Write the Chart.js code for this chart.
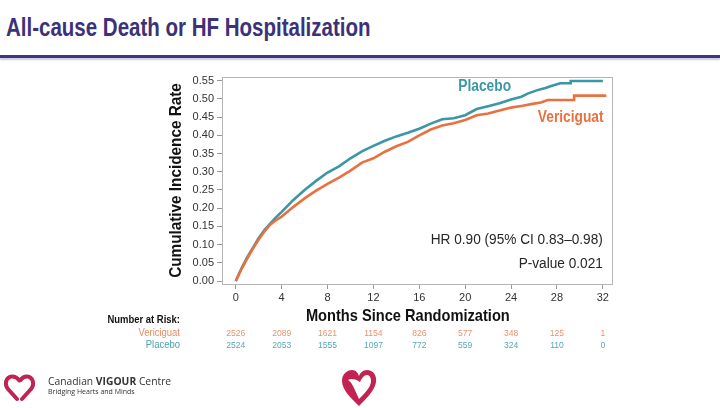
<!DOCTYPE html>
<html>
<head>
<meta charset="UTF-8">
<title>All-cause Death or HF Hospitalization</title>
<script src="https://cdn.jsdelivr.net/npm/chart.js@4.4.0/dist/chart.umd.min.js"></script>
<style>
  body { margin: 0; width: 720px; height: 408px; background: #fff; position: relative; overflow: hidden; font-family: 'Liberation Sans', Arial, sans-serif; }
  #title { position: absolute; left: 6px; top: 15px; font-size: 25px; line-height: 25px; font-weight: bold; color: #3b3278; white-space: nowrap; transform: scaleX(0.82); transform-origin: 0 0; }
  #rule { position: absolute; left: 0; top: 55px; width: 720px; height: 3px; background: #3d3781; box-shadow: 0 2px 2px #c9c6e0; }
  #chart { position: absolute; left: 0; top: 0; }
  .logo { position: absolute; }
  #cvc { left: 48px; top: 375px; font-family: 'Open Sans', 'Noto Sans', sans-serif; color: #333; }
  #cvc .name { font-size: 10.3px; line-height: 12px; white-space: nowrap; }
  #cvc .tag { font-size: 7px; line-height: 9px; white-space: nowrap; }
</style>
</head>
<body>
<div id="title">All-cause Death or HF Hospitalization</div>
<div id="rule"></div>
<canvas id="chart" width="720" height="408"></canvas>

<svg class="logo" style="left:4px;top:372px" width="31" height="31" viewBox="0 0 31 31">
  <path d="M13 27 L4 17 C0 12 2 5 8 4.5 C11 4.3 13.5 6 15.5 8.5" fill="none" stroke="#c12453" stroke-width="4" stroke-linecap="round"/>
  <path d="M18 27 L27 17 C31 12 29 5 23 4.5 C20 4.3 18 6 16.5 8" fill="none" stroke="#c12453" stroke-width="4" stroke-linecap="round"/>
</svg>
<div id="cvc" class="logo">
  <div class="name">Canadian <b>VIGOUR</b> Centre</div>
  <div class="tag">Bridging Hearts and Minds</div>
</div>
<svg class="logo" style="left:339px;top:368px" width="40" height="40" viewBox="0 0 40 40">
  <path d="M20 38 C12 30 3 22 3 13 C3 6 8 2 13 2 C17 2 19 5 20 8 C21 5 24 2 28 2 C34 2 38 7 37 14 C36 22 28 30 20 38 Z M20 31 C26 25 32 19 32 13 C32 9 30 7 28 7 C25 7 23 10 21 14 C17 11 12 10 9 12 C13 14 15 20 20 31 Z" fill="#c12453" fill-rule="evenodd"/>
</svg>

<script>
// number-at-risk table
const riskMonths = [0, 4, 8, 12, 16, 20, 24, 28, 32];
const riskVericiguat = [2526, 2089, 1621, 1154, 826, 577, 348, 125, 1];
const riskPlacebo = [2524, 2053, 1555, 1097, 772, 559, 324, 110, 0];

// axis ticks
const xTicks = [0, 4, 8, 12, 16, 20, 24, 28, 32];
const yTicks = [0, 0.05, 0.10, 0.15, 0.20, 0.25, 0.30, 0.35, 0.40, 0.45, 0.50, 0.55];

// cumulative incidence
const placeboTime = [0, 0.5, 1, 1.5, 2, 2.5, 3, 3.5, 4, 5, 6, 7, 8, 9, 10, 11, 12, 13, 14, 15, 16, 17, 18, 19, 20, 21, 22, 23, 24, 24.9, 25.5, 26.3, 27, 27.5, 28.3, 29.2, 29.2, 32];
const placeboRate = [0, 0.035, 0.066, 0.092, 0.118, 0.14, 0.158, 0.175, 0.19, 0.222, 0.25, 0.275, 0.298, 0.315, 0.337, 0.356, 0.371, 0.385, 0.397, 0.407, 0.418, 0.432, 0.444, 0.447, 0.455, 0.472, 0.48, 0.488, 0.498, 0.506, 0.515, 0.524, 0.53, 0.535, 0.543, 0.543, 0.549, 0.549];

const vericiguatTime = [0, 0.5, 1, 1.5, 2, 2.5, 3, 3.5, 4, 5, 6, 7, 8, 9, 10, 11, 12, 13, 14, 15, 16, 17, 18, 19, 20, 21, 22, 23, 24, 25, 26, 26.6, 27.2, 29.5, 29.5, 32.3];
const vericiguatRate = [0, 0.033, 0.062, 0.089, 0.114, 0.136, 0.155, 0.167, 0.177, 0.203, 0.227, 0.248, 0.267, 0.284, 0.303, 0.325, 0.337, 0.355, 0.37, 0.382, 0.4, 0.416, 0.427, 0.433, 0.442, 0.455, 0.46, 0.468, 0.476, 0.481, 0.487, 0.49, 0.497, 0.497, 0.509, 0.509];

const teal = '#3a97a6';
const orange = '#e9713f';
const sans = "'Liberation Sans', Arial, sans-serif";

function toPoints(t, v) {
  return t.map((m, i) => ({ x: m, y: v[i] }));
}

// the original uses a narrow face; squeeze the regular one
function narrowText(ctx, text, x, y, align, sx, rot) {
  ctx.save();
  ctx.translate(x, y);
  if (rot) ctx.rotate(rot);
  ctx.scale(sx, 1);
  ctx.textAlign = align;
  ctx.textBaseline = 'middle';
  ctx.fillText(text, 0, 0);
  ctx.restore();
}

const extras = {
  id: 'extras',
  beforeDatasetsDraw(chart) {
    const { ctx, chartArea: a } = chart;
    ctx.save();
    ctx.strokeStyle = '#b5b5b5';
    ctx.lineWidth = 1;
    ctx.strokeRect(a.left + 0.5, a.top + 0.5, a.right - a.left, a.bottom - a.top);
    ctx.restore();
  },
  afterDraw(chart) {
    const { ctx, chartArea: a } = chart;
    const x = chart.scales.x, y = chart.scales.y;
    ctx.save();
    // axis titles
    ctx.font = 'bold 17px ' + sans;
    ctx.fillStyle = '#111';
    narrowText(ctx, 'Months Since Randomization', x.getPixelForValue(15), 316, 'center', 0.86);
    narrowText(ctx, 'Cumulative Incidence Rate', 176, (a.top + a.bottom) / 2, 'center', 0.9, -Math.PI / 2);

    // curve labels
    ctx.font = 'bold 16px ' + sans;
    ctx.fillStyle = teal;
    narrowText(ctx, 'Placebo', x.getPixelForValue(21.7), y.getPixelForValue(0.533), 'center', 0.86);
    ctx.fillStyle = orange;
    narrowText(ctx, 'Vericiguat', x.getPixelForValue(29.2), y.getPixelForValue(0.448), 'center', 0.86);

    // hazard ratio
    ctx.font = '15.5px ' + sans;
    ctx.fillStyle = '#262626';
    narrowText(ctx, 'HR 0.90 (95% CI 0.83\u20130.98)', x.getPixelForValue(32), 240, 'right', 0.88);
    narrowText(ctx, 'P-value 0.021', x.getPixelForValue(32), 264, 'right', 0.88);

    // number at risk
    ctx.font = 'bold 11px ' + sans;
    ctx.fillStyle = '#111';
    narrowText(ctx, 'Number at Risk:', 180, 320, 'right', 0.86);
    ctx.font = '11px ' + sans;
    ctx.fillStyle = '#e58a63';
    narrowText(ctx, 'Vericiguat', 180, 333, 'right', 0.86);
    ctx.fillStyle = '#4b9fb0';
    narrowText(ctx, 'Placebo', 180, 345, 'right', 0.86);
    ctx.font = '9.5px ' + sans;
    riskMonths.forEach((m, i) => {
      const px = x.getPixelForValue(m);
      ctx.fillStyle = '#e8926c';
      narrowText(ctx, String(riskVericiguat[i]), px, 333, 'center', 0.9);
      ctx.fillStyle = '#58a6b6';
      narrowText(ctx, String(riskPlacebo[i]), px, 345, 'center', 0.9);
    });
    ctx.restore();
  }
};

new Chart(document.getElementById('chart'), {
  type: 'line',
  data: {
    datasets: [
      {
        label: 'Vericiguat',
        data: toPoints(vericiguatTime, vericiguatRate),
        borderColor: orange,
        borderWidth: 2.6,
        pointRadius: 0,
        tension: 0
      },
      {
        label: 'Placebo',
        data: toPoints(placeboTime, placeboRate),
        borderColor: teal,
        borderWidth: 2.6,
        pointRadius: 0,
        tension: 0
      }
    ]
  },
  options: {
    responsive: false,
    animation: false,
    events: [],
    layout: { padding: { left: 166, right: 108, top: 77, bottom: 82 } },
    plugins: { legend: { display: false }, tooltip: { enabled: false } },
    scales: {
      x: {
        type: 'linear',
        min: -1.2,
        max: 32.8,
        afterBuildTicks: s => { s.ticks = xTicks.map(v => ({ value: v })); },
        afterFit: s => { s.height = 42; },
        grid: { display: true, drawOnChartArea: false, tickLength: 5, color: '#999' },
        border: { display: false },
        ticks: { color: '#333', padding: 2, font: { family: sans, size: 11 }, maxRotation: 0 }
      },
      y: {
        min: -0.008,
        max: 0.56,
        afterBuildTicks: s => { s.ticks = yTicks.map(v => ({ value: v })); },
        afterFit: s => { s.width = 56; },
        grid: { display: true, drawOnChartArea: false, tickLength: 5, color: '#999' },
        border: { display: false },
        ticks: { color: '#333', padding: 3, font: { family: sans, size: 11 }, callback: v => v.toFixed(2) }
      }
    }
  },
  plugins: [extras]
});
</script>
</body>
</html>
